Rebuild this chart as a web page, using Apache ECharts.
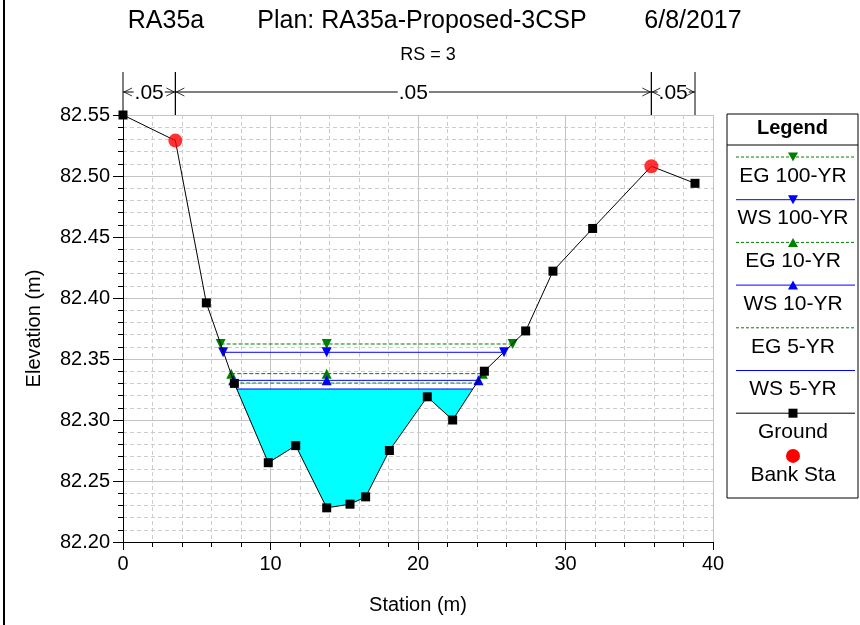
<!DOCTYPE html>
<html><head><meta charset="utf-8">
<script src="https://cdn.jsdelivr.net/npm/echarts@6/dist/echarts.min.js"></script>
<style>html,body{margin:0;padding:0;background:#fff}#c{width:860px;height:625px}</style>
</head><body><div id="c"></div>
<script>
// ---- data ----
const groundX = [0, 3.55, 5.65, 7.55, 9.85, 11.71, 13.81, 15.39, 16.45, 18.06, 20.63, 22.35, 24.5, 27.3, 29.15, 31.84, 35.82, 38.78];
const groundY = [82.55, 82.529, 82.396, 82.330, 82.265, 82.279, 82.228, 82.231, 82.237, 82.275, 82.319, 82.300, 82.340, 82.373, 82.422, 82.457, 82.508, 82.494];
const bankX = [3.55, 35.82];
const bankY = [82.529, 82.508];
const profileNames = ['EG 100-YR', 'WS 100-YR', 'EG 10-YR', 'WS 10-YR', 'EG 5-YR', 'WS 5-YR'];
const profileElev = [82.3623, 82.3555, 82.338, 82.3325, 82.3303, 82.3254];
const profileLeft = [6.62, 6.79, 7.34, 7.48, 7.54, 7.71];
const profileRight = [26.42, 25.83, 24.40, 24.10, 23.96, 23.70];
const profileMid = [13.81, 13.81, 13.81, 13.81, 13.81, 13.81];
const nStations = [0, 3.55, 35.82, 38.78];
const nValues = ['.05', '.05', '.05'];
const titleParts = ['RA35a', 'Plan: RA35a-Proposed-3CSP', '6/8/2017'];
const subTitle = 'RS = 3';
const yMin = 82.20, yMax = 82.55, yStep = 0.05;
const xMin = 0, xMax = 40, xStep = 10;

// ---- styles ----
const FONT = 'Liberation Sans, Arial, sans-serif';
const GREEN = '#008000', BLUE = '#0000ff';
const profStyle = [
  {color: GREEN, type: 'dashed', symbol: 'triangle', rotate: 180},
  {color: BLUE, type: 'solid', symbol: 'triangle', rotate: 180},
  {color: GREEN, type: 'dashed', symbol: 'triangle', rotate: 0},
  {color: BLUE, type: 'solid', symbol: 'triangle', rotate: 0},
  {color: GREEN, type: 'dashed', symbol: 'none', rotate: 0},
  {color: BLUE, type: 'solid', symbol: 'none', rotate: 0}
];
const titleCenters = [166, 422, 693];

const chart = echarts.init(document.getElementById('c'), null, {renderer: 'canvas'});

const series = [];
// water fill for lowest profile (WS 5-YR)
const wi = 5;
series.push({
  type: 'custom', name: 'fill', silent: true, z: 1,
  data: [[profileLeft[wi], profileElev[wi]]],
  encode: {x: 0, y: 1},
  renderItem: function (params, api) {
    const pts = [[profileLeft[wi], profileElev[wi]]];
    groundX.forEach(function (x, i) { if (x > profileLeft[wi] && x < profileRight[wi]) pts.push([x, groundY[i]]); });
    pts.push([profileRight[wi], profileElev[wi]]);
    return {type: 'polygon', shape: {points: pts.map(function (p) { return api.coord(p); })}, style: {fill: '#00ffff'}};
  }
});
profileNames.forEach(function (nm, i) {
  const st = profStyle[i];
  const pts = st.symbol === 'none'
    ? [[profileLeft[i], profileElev[i]], [profileRight[i], profileElev[i]]]
    : [[profileLeft[i], profileElev[i]], [profileMid[i], profileElev[i]], [profileRight[i], profileElev[i]]];
  series.push({
    type: 'line', name: nm, data: pts, z: 3,
    symbol: st.symbol, symbolSize: 10, symbolRotate: st.rotate, showSymbol: st.symbol !== 'none',
    lineStyle: {color: st.color, width: 1, type: st.type},
    itemStyle: {color: st.color},
    animation: false
  });
});
series.push({
  type: 'line', name: 'Ground', z: 4,
  data: groundX.map(function (x, i) {
    const isBank = bankX.indexOf(x) >= 0;
    return isBank ? {value: [x, groundY[i]], symbol: 'none'} : [x, groundY[i]];
  }),
  symbol: 'rect', symbolSize: 9, lineStyle: {color: '#000', width: 1}, itemStyle: {color: '#000'}, animation: false
});
series.push({
  type: 'scatter', name: 'Bank Sta', z: 5,
  data: bankX.map(function (x, i) { return [x, bankY[i]]; }),
  symbol: 'circle', symbolSize: 14, itemStyle: {color: '#ff0000', borderWidth: 0}, animation: false
});
// Manning's n annotations above the plot
series.push({
  type: 'custom', name: 'manning', silent: true, clip: false, z: 6,
  data: nValues.map(function (v, i) { return [nStations[i], nStations[i + 1], yMax, i]; }),
  encode: {x: [0, 1], y: 2},
  renderItem: function (params, api) {
    const a = api.coord([api.value(0), yMax])[0];
    const b = api.coord([api.value(1), yMax])[0];
    const top = params.coordSys.y;
    const yl = top - 23, yt = top - 43;
    const ls = {stroke: '#000', lineWidth: 1};
    const cs = {stroke: '#000', lineWidth: 0.8, fill: null};
    return {type: 'group', children: [
      {type: 'line', shape: {x1: a, y1: yt, x2: a, y2: top}, style: ls},
      {type: 'line', shape: {x1: b, y1: yt, x2: b, y2: top}, style: ls},
      {type: 'line', shape: {x1: a, y1: yl, x2: b, y2: yl}, style: ls},
      {type: 'text', x: (a + b) / 2, y: yl + 1, style: {text: nValues[api.value(3)], font: '21px ' + FONT, fill: '#000', align: 'center', verticalAlign: 'middle', backgroundColor: '#fff', padding: [0, 1]}},
      {type: 'polyline', shape: {points: [[a + 9, yl - 4], [a + 1, yl], [a + 9, yl + 4]]}, style: cs},
      {type: 'polyline', shape: {points: [[b - 9, yl - 4], [b - 1, yl], [b - 9, yl + 4]]}, style: cs}
    ]};
  }
});

// legend drawn as graphic (icon above label, as in the reference)
const legNames = profileNames.concat(['Ground', 'Bank Sta']);
const LX = 727, LY = 114, LW = 131, LH = 384;
const legend = [
  {type: 'rect', shape: {x: LX, y: LY, width: LW, height: LH}, style: {fill: '#fff', stroke: '#000', lineWidth: 1}},
  {type: 'line', shape: {x1: LX, y1: LY + 31, x2: LX + LW, y2: LY + 31}, style: {stroke: '#000', lineWidth: 1}},
  {type: 'text', x: LX + LW / 2, y: LY + 14, style: {text: 'Legend', font: 'bold 20px ' + FONT, fill: '#000', align: 'center', verticalAlign: 'middle'}}
];
legNames.forEach(function (nm, i) {
  const ly = LY + 43 + i * 42.7;
  const cx = LX + 66;
  if (i < 6) {
    const st = profStyle[i];
    legend.push({type: 'line', shape: {x1: LX + 9, y1: ly, x2: LX + 128, y2: ly}, style: {stroke: st.color, lineWidth: 1, lineDash: st.type === 'dashed' ? [3, 2] : null}});
    if (st.symbol !== 'none') {
      const pts = st.rotate === 180 ? [[cx - 5, ly - 4.5], [cx + 5, ly - 4.5], [cx, ly + 4.5]] : [[cx - 5, ly + 4.5], [cx + 5, ly + 4.5], [cx, ly - 4.5]];
      legend.push({type: 'polygon', shape: {points: pts}, style: {fill: st.color}});
    }
  } else if (nm === 'Ground') {
    legend.push({type: 'line', shape: {x1: LX + 9, y1: ly, x2: LX + 128, y2: ly}, style: {stroke: '#000', lineWidth: 1}});
    legend.push({type: 'rect', shape: {x: cx - 4.5, y: ly - 4.5, width: 9, height: 9}, style: {fill: '#000'}});
  } else {
    legend.push({type: 'circle', shape: {cx: cx, cy: ly, r: 7}, style: {fill: '#ff0000'}});
  }
  legend.push({type: 'text', x: cx, y: ly + 19, style: {text: nm, font: '21px ' + FONT, fill: '#000', align: 'center', verticalAlign: 'middle'}});
});
legend.push({type: 'rect', shape: {x: 3, y: 0, width: 2, height: 625}, style: {fill: '#000'}});

const titleStyle = {fontSize: 25, fontWeight: 'normal', color: '#000', fontFamily: FONT};
const option = {
  backgroundColor: '#fff',
  animation: false,
  textStyle: {fontFamily: FONT},
  title: titleParts.map(function (t, i) {
    return {text: t, left: titleCenters[i], textAlign: 'center', top: 9, padding: 0, textStyle: titleStyle};
  }).concat([
    {text: subTitle, left: 428, textAlign: 'center', top: 46, padding: 0, textStyle: {fontSize: 18, fontWeight: 'normal', color: '#000', fontFamily: FONT}}
  ]),
  grid: {left: 123, right: 147, top: 115, bottom: 83, containLabel: false},
  xAxis: {
    type: 'value', min: xMin, max: xMax, interval: xStep,
    name: 'Station (m)', nameLocation: 'middle', nameGap: 53,
    nameTextStyle: {fontSize: 20, color: '#000', fontFamily: FONT},
    axisLine: {show: true, onZero: false, lineStyle: {color: '#000', width: 1}},
    axisTick: {show: true, length: 8, lineStyle: {color: '#000'}},
    minorTick: {show: true, splitNumber: 5, length: 5, lineStyle: {color: '#000'}},
    axisLabel: {fontSize: 20, color: '#000', margin: 12, fontFamily: FONT},
    splitLine: {show: true, lineStyle: {color: '#c4c4c4', width: 1}},
    minorSplitLine: {show: true, lineStyle: {color: '#cccccc', width: 1, type: [4, 3]}}
  },
  yAxis: {
    type: 'value', min: yMin, max: yMax, interval: yStep,
    name: 'Elevation (m)', nameLocation: 'middle', nameGap: 79, nameRotate: 90,
    nameTextStyle: {fontSize: 20, color: '#000', fontFamily: FONT},
    axisLine: {show: true, onZero: false, lineStyle: {color: '#000', width: 1}},
    axisTick: {show: true, length: 10, lineStyle: {color: '#000'}},
    minorTick: {show: true, splitNumber: 5, length: 5, lineStyle: {color: '#000'}},
    axisLabel: {fontSize: 20, color: '#000', margin: 13, fontFamily: FONT, formatter: function (v) { return v.toFixed(2); }},
    splitLine: {show: true, lineStyle: {color: '#c4c4c4', width: 1}},
    minorSplitLine: {show: true, lineStyle: {color: '#cccccc', width: 1, type: [4, 3]}}
  },
  graphic: legend,
  series: series
};
chart.setOption(option);
</script>
</body></html>
